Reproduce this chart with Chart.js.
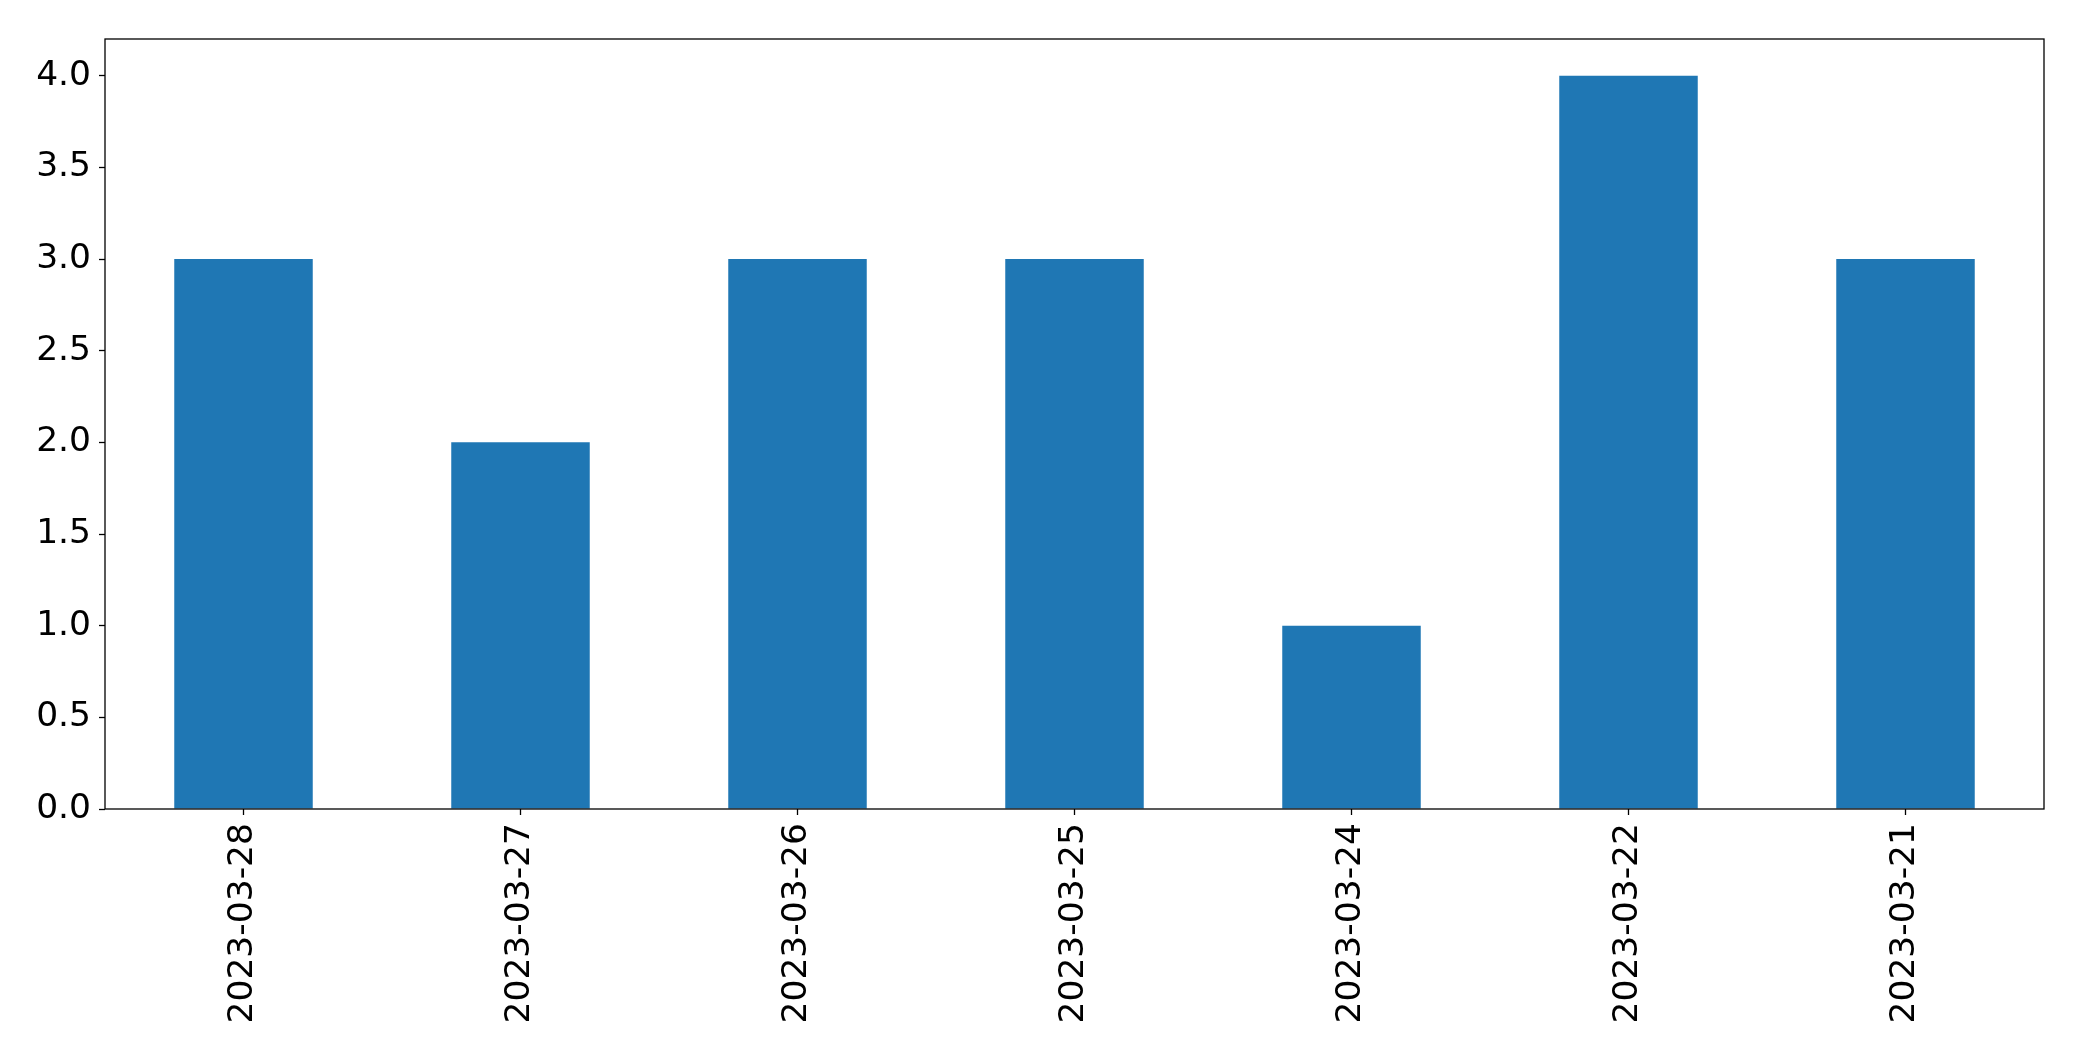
<!DOCTYPE html>
<html>
<head>
<meta charset="utf-8">
<script src="https://cdn.jsdelivr.net/npm/chart.js@4"></script>
<style>
  html, body { margin: 0; padding: 0; background: #fff; }
  #wrap { width: 2082px; height: 1061px; }
</style>
</head>
<body>
<div id="wrap"><canvas id="chart" width="2082" height="1061"></canvas></div>
<script>
const dates = ['2023-03-28', '2023-03-27', '2023-03-26', '2023-03-25', '2023-03-24', '2023-03-22', '2023-03-21'];
const counts = [3, 2, 3, 3, 1, 4, 3];
const yTicks = [0, 0.5, 1.0, 1.5, 2.0, 2.5, 3.0, 3.5, 4.0];

const blue = '#1f77b4';
const font = { family: "'DejaVu Sans', sans-serif", size: 34.5 };

// matplotlib-style frame around the plot area
const frame = {
  id: 'frame',
  afterDraw(chart) {
    const a = chart.chartArea, ctx = chart.ctx;
    ctx.save();
    ctx.strokeStyle = '#000';
    ctx.lineWidth = 1.3;
    ctx.strokeRect(a.left, a.top, a.right - a.left, a.bottom - a.top);
    ctx.restore();
  }
};

new Chart(document.getElementById('chart'), {
  type: 'bar',
  data: {
    labels: dates,
    datasets: [{ data: counts, backgroundColor: blue, borderWidth: 0, categoryPercentage: 1.0, barPercentage: 0.5 }]
  },
  plugins: [frame],
  options: {
    responsive: false,
    animation: false,
    layout: { padding: { left: 0, top: 39, right: 38, bottom: 0 } },
    plugins: { legend: { display: false }, tooltip: { enabled: false } },
    scales: {
      x: {
        offset: true,
        grid: { offset: false, drawOnChartArea: false, tickLength: 6, tickColor: '#000', tickWidth: 1.3 },
        border: { display: false },
        ticks: { color: '#000', font: font, minRotation: 90, maxRotation: 90, padding: 8, autoSkip: false },
        afterFit(scale) { scale.height = 252; }
      },
      y: {
        min: 0,
        max: 4.2,
        grid: { drawOnChartArea: false, tickLength: 6, tickColor: '#000', tickWidth: 1.3 },
        border: { display: false },
        ticks: { color: '#000', font: font, padding: 8, callback: v => v.toFixed(1) },
        afterBuildTicks(scale) { scale.ticks = yTicks.map(v => ({ value: v })); },
        afterFit(scale) { scale.width = 105; }
      }
    }
  }
});
</script>
</body>
</html>
